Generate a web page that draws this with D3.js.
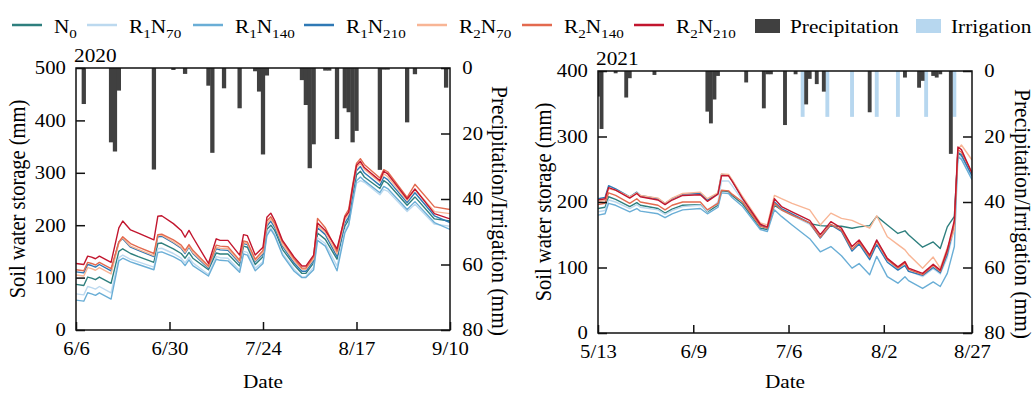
<!DOCTYPE html>
<html>
<head>
<meta charset="utf-8">
<script src="https://cdn.jsdelivr.net/npm/d3@7"></script>
<style>
  body { margin: 0; background: #fff; }
  svg { display: block; }
</style>
</head>
<body>
<svg id="chart" width="1035" height="394" font-family="Liberation Serif"></svg>
<script>
// ---- Treatments ----
const treatments = ["N0", "R1N70", "R1N140", "R1N210", "R2N70", "R2N140", "R2N210"];
const treatmentColors = ["#2e7f7e", "#bcd9ef", "#6aaed6", "#2f79b5", "#f8b595", "#e36a4f", "#c2162e"];

// ---- 2020 season: day offsets from 6/6 and soil water storage (mm) ----
const days2020 = [0,2,3,4,5,6,9,11,12,14,16,20,21,22,25,27,28,29,30,34,36,37,39,42,43,44,46,48,49,50,51,53,56,58,59,61,62,64,67,69,70,71,72,73,74,78,79,80,85,87,92,96];
const n0_2020     = [87,85,101,99,96,101,89,150,155,146,140,129,165,166,155,146,137,148,137,115,147,145,145,122,160,158,125,140,192,200,190,154,124,108,108,128,185,173,135,198,210,255,296,303,292,270,285,280,238,254,212,208];
const r1n70_2020  = [69,67,83,81,78,83,71,138,143,135,130,120,155,156,146,137,128,139,128,106,140,138,137,114,150,148,118,130,185,195,183,146,116,101,102,120,176,165,122,190,202,240,280,285,282,258,268,265,226,240,202,198];
const r1n140_2020 = [57,55,71,69,66,71,59,132,137,130,125,115,148,149,140,132,123,134,123,103,135,133,132,110,145,143,113,127,180,192,180,143,112,100,100,115,171,160,113,185,200,245,285,292,285,262,274,270,230,245,205,192];
const r1n210_2020 = [111,109,125,123,120,125,113,168,174,158,152,140,178,179,166,156,146,158,146,118,155,153,152,128,165,163,130,145,198,208,196,160,128,112,112,133,195,182,140,204,216,262,304,312,300,276,292,287,243,262,218,205];
const r2n70_2020  = [105,103,119,117,114,119,107,166,176,160,154,142,180,181,168,158,148,160,148,120,158,156,155,130,167,165,132,148,202,212,200,163,132,116,116,136,200,186,145,210,222,268,310,318,307,282,298,293,247,268,226,222];
const r2n140_2020 = [115,113,129,127,124,129,117,168,178,165,158,146,182,183,172,162,152,163,152,122,162,160,159,133,170,168,135,152,208,216,204,168,136,118,118,140,213,195,150,218,230,276,318,327,316,290,306,302,253,278,235,230];
const r2n210_2020 = [127,125,141,139,136,141,129,195,208,191,185,172,217,218,203,190,177,190,177,127,174,171,171,143,182,180,143,158,215,223,209,171,139,122,122,143,204,190,155,215,225,272,314,322,310,285,303,298,250,269,222,212];

const precipDays2020 = [2,9,10,11,20,25,28,34,35,38,42,46,47,48,49,58,59,60,61,64,65,67,69,70,71,72,78,79,80,85,87,95];
const precipMm2020   = [11,22.7,25.5,6.9,31,0.6,1.8,5.4,25.9,6.2,12.3,1,7.2,26.4,2.3,3.7,11.3,30.6,23.3,0.8,0.8,21.7,12.3,13.5,22.7,19.2,31.1,0.5,0.5,16.6,1.9,6];

// ---- 2021 season: day offsets from 5/13 ----
const days2021 = [0,2,3,5,9,11,12,17,19,21,24,29,31,34,35,37,38,41,46,48,50,52,55,60,63,66,69,72,74,77,79,82,85,87,88,92,95,97,99,101,102,103,106];
const n0_2021     = [190,192,208,204,193,199,195,190,183,189,195,196,185,195,217,216,210,197,160,158,195,188,180,167,164,163,163,160,162,164,178,165,152,156,150,131,139,129,162,178,275,271,238];
const r1n70_2021  = [185,187,203,200,190,196,192,188,181,187,193,195,186,200,232,232,225,202,163,160,198,188,180,166,146,166,156,128,138,115,142,112,98,104,95,86,98,90,115,160,272,268,236];
const r1n140_2021 = [180,182,198,195,185,190,186,182,176,182,188,190,182,192,214,213,207,193,158,155,188,178,165,144,124,132,118,99,106,89,117,86,76,86,80,68,78,71,91,132,269,265,234];
const r1n210_2021 = [205,207,225,220,208,215,210,205,198,205,212,213,203,213,242,241,233,206,165,160,200,190,182,168,145,165,155,125,136,112,135,108,96,103,94,88,100,92,120,165,276,272,240];
const r2n70_2021  = [200,203,220,218,208,214,210,206,198,206,213,215,205,214,243,242,234,208,168,165,210,205,198,188,165,183,175,172,167,160,179,147,135,127,120,99,116,99,130,157,280,287,264];
const r2n140_2021 = [196,198,214,210,198,205,200,195,188,195,200,200,188,198,218,217,212,200,163,160,198,188,180,168,146,166,157,128,139,116,140,112,99,107,97,89,103,94,124,168,280,276,245];
const r2n210_2021 = [203,205,222,218,206,213,208,203,196,203,210,211,201,212,240,240,232,205,166,162,205,193,185,172,150,170,160,132,142,119,142,114,101,109,99,91,105,96,127,172,284,280,244];

const precipDays2021 = [0,1,5,8,9,16,31,32,33,34,42,47,48,49,53,56,59,60,62,64,77,87,91,92,95,96,97,100];
const precipMm2021   = [7.8,17.7,0.7,8.1,2.2,1.2,12.4,16,8.7,1.5,3.5,11.4,1,1,16.5,1,10.2,2.4,4,6.3,12.6,2,5.1,3,1.5,2,1,25.3];
const irrigDays2021  = [58,65,72,79,85,93,101];
const irrigMm2021    = [14,14,14,14,14,14,14];

// ---- Axis ticks ----
const swsTicks2020 = [0,100,200,300,400,500];
const swsTicks2021 = [0,100,200,300,400];
const rainTicks = [0,20,40,60,80];
const dateTicks2020 = [0,24,48,72,96];   // 6/6, 6/30, 7/24, 8/17, 9/10
const dateTicks2021 = [0,27,54,81,106];  // 5/13, 6/9, 7/6, 8/2, 8/27

const PRECIP_COLOR = "#404040";
const IRRIG_COLOR = "#b7d7ef";
const SERIF = "Liberation Serif";
const TICK_FONT = 18.5;
const SWS_TITLE_FONT = 20.5;
const RAIN_TITLE_FONT = 21.5;
const LEGEND_FONT = 19;
const WIDEN = 1.12;   // the figure's type is set slightly wide

const svg = d3.select("#chart");

// Split a treatment name into main text and subscript digits
function labelParts(name) {
  return name.match(/[A-Za-z]+|\d+/g).map(t => ({ text: t, sub: /^\d+$/.test(t) }));
}
function writeLabel(textSel, name, subSize) {
  let prevSub = false;
  labelParts(name).forEach(p => {
    const ts = textSel.append("tspan").text(p.text);
    if (p.sub && !prevSub) ts.attr("dy", 5).attr("font-size", subSize);
    else if (!p.sub && prevSub) ts.attr("dy", -5);
    prevSub = p.sub;
  });
}

// Text placed at (x, y) with optional rotation, widened horizontally
function addText(sel, x, y, rot = 0) {
  const tf = `translate(${x},${y}) scale(${WIDEN},1)` + (rot ? ` rotate(${rot})` : "");
  return sel.append("text").attr("transform", tf).attr("font-family", SERIF).attr("fill", "#000");
}

function drawPanel(p) {
  const dayDate = d => d3.utcDay.offset(p.start, d);
  const x = d3.scaleUtc().domain([p.start, dayDate(p.span)]).range([p.left, p.right]);
  const y = d3.scaleLinear().domain([0, p.yMax]).range([p.bottom, p.top]);
  const yr = d3.scaleLinear().domain([0, 80]).range([p.top, p.bottom]);
  const dayW = x(dayDate(1)) - x(dayDate(0));
  const barW = dayW * 1.1;

  const g = svg.append("g");
  g.append("clipPath").attr("id", "clip" + p.id)
    .append("rect").attr("x", p.left).attr("y", p.top)
    .attr("width", p.right - p.left).attr("height", p.bottom - p.top);
  const plot = g.append("g").attr("clip-path", `url(#clip${p.id})`);

  // Precipitation / irrigation hanging from the top axis
  p.bars.forEach(b => {
    plot.append("g").selectAll("rect")
      .data(d3.zip(b.days, b.mm))
      .join("rect")
      .attr("x", d => x(dayDate(d[0])) - barW / 2)
      .attr("width", barW)
      .attr("y", yr(0))
      .attr("height", d => yr(d[1]) - yr(0))
      .attr("fill", b.color);
  });

  // Soil water storage lines
  const line = d3.line()
    .x((v, i) => x(dayDate(p.days[i])))
    .y(v => y(v));
  p.series.forEach((vals, k) => {
    plot.append("path")
      .attr("d", line(vals))
      .attr("fill", "none")
      .attr("stroke", treatmentColors[k])
      .attr("stroke-width", 1.4)
      .attr("stroke-linejoin", "round");
  });

  const styleAxis = a => {
    a.attr("font-family", SERIF).attr("font-size", TICK_FONT);
    a.select(".domain").remove();
    a.selectAll(".tick line").attr("stroke", "#111").attr("stroke-width", 1.5);
    a.selectAll(".tick text").attr("fill", "#000").attr("font-family", SERIF)
      .attr("transform", `scale(${WIDEN},1)`);
  };

  g.append("g").attr("transform", `translate(${p.left},0)`)
    .call(d3.axisLeft(y).tickValues(p.yTicks).tickSizeInner(-9).tickSizeOuter(0).tickPadding(9))
    .call(styleAxis);
  g.append("g").attr("transform", `translate(${p.right},0)`)
    .call(d3.axisRight(yr).tickValues(rainTicks).tickSizeInner(-9).tickSizeOuter(0).tickPadding(11))
    .call(styleAxis);
  g.append("g").attr("transform", `translate(0,${p.bottom})`)
    .call(d3.axisBottom(x).tickValues(p.xTicks.map(dayDate)).tickFormat(d3.utcFormat("%-m/%-d"))
      .tickSizeInner(-8).tickSizeOuter(0).tickPadding(12))
    .call(styleAxis);

  // Frame
  g.append("rect").attr("x", p.left).attr("y", p.top)
    .attr("width", p.right - p.left).attr("height", p.bottom - p.top)
    .attr("fill", "none").attr("stroke", "#111").attr("stroke-width", 1.5);

  // Year label
  addText(g, p.left - 2, p.top - 6).attr("font-size", LEGEND_FONT).text(p.year);

  // Axis titles
  const midY = (p.top + p.bottom) / 2;
  addText(g, p.leftTitleX, midY, -90)
    .attr("text-anchor", "middle").attr("font-size", SWS_TITLE_FONT).text("Soil water storage (mm)");
  addText(g, p.rightTitleX, midY + 12, 90)
    .attr("text-anchor", "middle").attr("font-size", RAIN_TITLE_FONT).text("Precipitation/Irrigation (mm)");
  addText(g, (p.left + p.right) / 2, 388)
    .attr("text-anchor", "middle").attr("font-size", LEGEND_FONT).text("Date");
}

drawPanel({
  id: "2020", year: "2020",
  start: new Date(Date.UTC(2020, 5, 6)), span: 96,
  left: 76, right: 450, top: 68, bottom: 330,
  yMax: 500, yTicks: swsTicks2020, xTicks: dateTicks2020,
  days: days2020,
  series: [n0_2020, r1n70_2020, r1n140_2020, r1n210_2020, r2n70_2020, r2n140_2020, r2n210_2020],
  bars: [{ days: precipDays2020, mm: precipMm2020, color: PRECIP_COLOR }],
  leftTitleX: 25, rightTitleX: 492
});

drawPanel({
  id: "2021", year: "2021",
  start: new Date(Date.UTC(2021, 4, 13)), span: 106,
  left: 598, right: 972, top: 71, bottom: 333,
  yMax: 400, yTicks: swsTicks2021, xTicks: dateTicks2021,
  days: days2021,
  series: [n0_2021, r1n70_2021, r1n140_2021, r1n210_2021, r2n70_2021, r2n140_2021, r2n210_2021],
  bars: [
    { days: irrigDays2021, mm: irrigMm2021, color: IRRIG_COLOR },
    { days: precipDays2021, mm: precipMm2021, color: PRECIP_COLOR }
  ],
  leftTitleX: 551, rightTitleX: 1015
});

// ---- Legend ----
const legend = svg.append("g");
const lineStarts = [12, 87, 193, 304, 417, 522, 634];
treatments.forEach((name, k) => {
  const x0 = lineStarts[k];
  legend.append("line").attr("x1", x0).attr("x2", x0 + 30).attr("y1", 25).attr("y2", 25)
    .attr("stroke", treatmentColors[k]).attr("stroke-width", 2.5);
  const t = addText(legend, x0 + 42, 33).attr("font-size", LEGEND_FONT);
  writeLabel(t, name, 13.5);
});
[
  { label: "Precipitation", color: PRECIP_COLOR, x: 755 },
  { label: "Irrigation", color: IRRIG_COLOR, x: 916 }
].forEach(it => {
  legend.append("rect").attr("x", it.x).attr("y", 19).attr("width", 25).attr("height", 14).attr("fill", it.color);
  addText(legend, it.x + 35, 33).attr("font-size", LEGEND_FONT).text(it.label);
});
</script>
</body>
</html>
